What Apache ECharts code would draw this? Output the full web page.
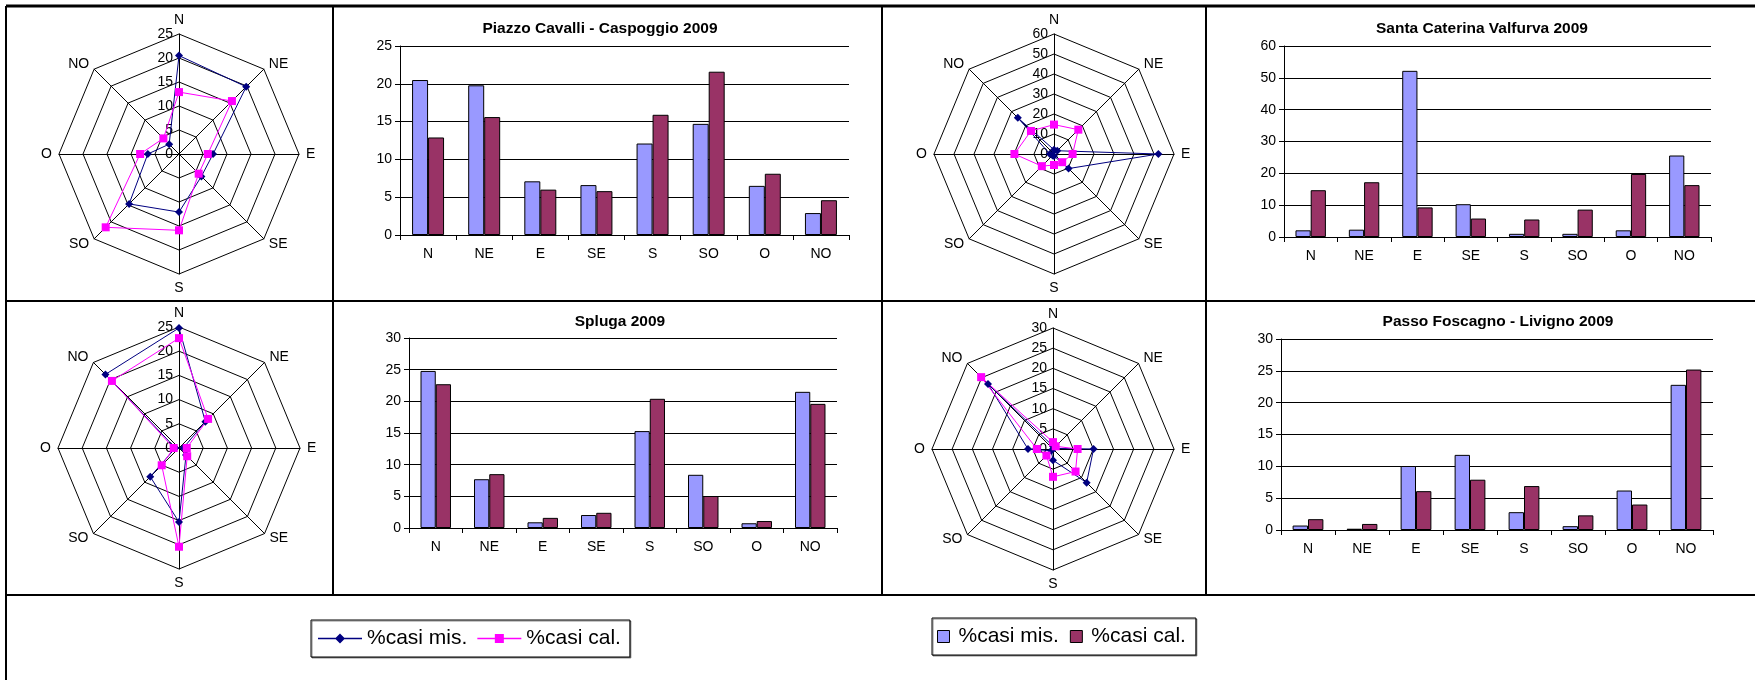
<!DOCTYPE html>
<html><head><meta charset="utf-8">
<script src="https://cdn.jsdelivr.net/npm/echarts@6/dist/echarts.min.js"></script>
<style>html,body{margin:0;padding:0;background:#fff}#c{width:1755px;height:680px}</style>
</head><body><div id="c"></div>
<script>
// ---------- DATA ----------
const categories = ['N', 'NE', 'E', 'SE', 'S', 'SO', 'O', 'NO'];
const titles = ['Piazzo Cavalli - Caspoggio 2009', 'Santa Caterina Valfurva 2009', 'Spluga 2009', 'Passo Foscagno - Livigno 2009'];
const misPiazzo   = [20.5, 19.8, 7.1, 6.6, 12.1, 14.7, 6.5, 2.9];
const calPiazzo   = [12.9, 15.6, 6.0, 5.8, 15.9, 21.6, 8.1, 4.6];
const misSanta    = [2.1, 2.3, 52.2, 10.3, 1.0, 1.0, 2.1, 25.6];
const calSanta    = [14.7, 17.2, 9.3, 5.8, 5.5, 8.6, 19.8, 16.3];
const misSpluga   = [24.8, 7.7, 0.9, 2.05, 15.3, 8.4, 0.75, 21.5];
const calSpluga   = [22.7, 8.5, 1.6, 2.4, 20.4, 5.05, 1.1, 19.6];
const misFoscagno = [0.7, 0.2, 10.05, 11.8, 2.8, 0.6, 6.2, 22.8];
const calFoscagno = [1.7, 0.95, 6.1, 7.9, 6.9, 2.3, 4.0, 25.2];
const radarMax  = [25, 60, 25, 30];
const radarStep = [5, 10, 5, 5];
const barMax  = [25, 60, 30, 30];
const barStep = [5, 10, 5, 5];
const legendLabels = ['%casi mis.', '%casi cal.'];

// ---------- LAYOUT / STYLE ----------
const FONT = 'Liberation Sans, Arial, sans-serif';
const C_MIS_LINE = '#000080', C_CAL_LINE = '#FF00FF';
const C_MIS_BAR = '#9999FF', C_CAL_BAR = '#993366';
const stations = [
  {mis: misPiazzo, cal: calPiazzo},
  {mis: misSanta, cal: calSanta},
  {mis: misSpluga, cal: calSpluga},
  {mis: misFoscagno, cal: calFoscagno}
];
const radarLayout = [
  {c: [179, 154], r: 120}, {c: [1054, 154], r: 120},
  {c: [179, 448], r: 121}, {c: [1053, 449], r: 121}
];
const gridLayout = [
  {left: 400, top: 46, width: 449, height: 189},
  {left: 1284, top: 46, width: 427, height: 191},
  {left: 409, top: 338, width: 428, height: 190},
  {left: 1281, top: 339, width: 432, height: 191}
];
const titlePos = [[600, 21], [1482, 21], [620, 314], [1498, 314]];
// counter-clockwise order of indicators starting from north
const ccw = [0, 7, 6, 5, 4, 3, 2, 1];

const radar = [], series = [], grid = [], xAxis = [], yAxis = [], title = [];
stations.forEach((st, k) => {
  radar.push({
    center: radarLayout[k].c, radius: radarLayout[k].r, startAngle: 90,
    shape: 'polygon', splitNumber: radarMax[k] / radarStep[k],
    indicator: ccw.map((i, j) => {
      const ind = {name: categories[i], min: 0, max: radarMax[k]};
      if (j === 0) ind.axisLabel = {show: true};
      return ind;
    }),
    nameGap: 7,
    axisName: {color: '#000', fontSize: 14, fontFamily: FONT},
    axisLine: {lineStyle: {color: '#000', width: 1}},
    splitLine: {lineStyle: {color: '#000', width: 1}},
    splitArea: {show: false},
    axisTick: {show: false},
    axisLabel: {show: false, color: '#000', fontSize: 14, fontFamily: FONT, margin: 6}
  });
  series.push({
    type: 'radar', radarIndex: k, silent: true,
    data: [
      {name: 'r_mis', value: ccw.map(i => st.mis[i]), symbol: 'diamond', symbolSize: 8,
       itemStyle: {color: C_MIS_LINE}, lineStyle: {color: C_MIS_LINE, width: 1}},
      {name: 'r_cal', value: ccw.map(i => st.cal[i]), symbol: 'rect', symbolSize: 8,
       itemStyle: {color: C_CAL_LINE}, lineStyle: {color: C_CAL_LINE, width: 1}}
    ]
  });
  grid.push(Object.assign({outerBoundsMode: 'none', containLabel: false}, gridLayout[k]));
  xAxis.push({
    type: 'category', gridIndex: k, data: categories,
    axisLine: {lineStyle: {color: '#000', width: 1}},
    axisTick: {show: true, length: 5, lineStyle: {color: '#000'}},
    axisLabel: {color: '#000', fontSize: 14, fontFamily: FONT, margin: 12, interval: 0},
    splitLine: {show: false}
  });
  yAxis.push({
    type: 'value', gridIndex: k, min: 0, max: barMax[k], interval: barStep[k],
    axisLine: {show: true, lineStyle: {color: '#000', width: 1}},
    axisTick: {show: true, length: 5, lineStyle: {color: '#000'}},
    axisLabel: {color: '#000', fontSize: 14, fontFamily: FONT, margin: 8},
    splitLine: {show: true, lineStyle: {color: '#000', width: 1}}
  });
  title.push({
    text: titles[k], left: titlePos[k][0], top: titlePos[k][1], textAlign: 'center', padding: 0,
    textStyle: {fontSize: 15.5, fontWeight: 'bold', color: '#000', fontFamily: FONT}
  });
  series.push({
    type: 'bar', name: 'b_mis', xAxisIndex: k, yAxisIndex: k, data: st.mis,
    barGap: '0%', barCategoryGap: '43%', silent: true,
    itemStyle: {color: C_MIS_BAR, borderColor: '#000', borderWidth: 1}
  });
  series.push({
    type: 'bar', name: 'b_cal', xAxisIndex: k, yAxisIndex: k, data: st.cal,
    barGap: '0%', barCategoryGap: '43%', silent: true,
    itemStyle: {color: C_CAL_BAR, borderColor: '#000', borderWidth: 1}
  });
});

const legendName = n => (n.endsWith('mis') ? legendLabels[0] : legendLabels[1]);
const legend = [
  {
    left: 311, top: 620, orient: 'horizontal', selectedMode: false,
    itemWidth: 44, itemHeight: 10, itemGap: 10,
    padding: [8, 9, 8, 7], borderColor: '#000', borderWidth: 1,
    shadowColor: 'rgba(0,0,0,0.45)', shadowOffsetX: 1, shadowOffsetY: 1, shadowBlur: 0,
    backgroundColor: '#fff',
    formatter: legendName,
    textStyle: {fontSize: 21, color: '#000', fontFamily: FONT},
    data: [
      {name: 'r_mis', icon: 'path://M0,4.25h44v1.5h-44z M22,0L27,5L22,10L17,5z', itemStyle: {color: C_MIS_LINE, borderWidth: 0}},
      {name: 'r_cal', icon: 'path://M0,4.25h44v1.5h-44z M17.5,0.5h9v9h-9z', itemStyle: {color: C_CAL_LINE, borderWidth: 0}}
    ]
  },
  {
    left: 932, top: 618, orient: 'horizontal', selectedMode: false,
    itemWidth: 20, itemHeight: 12, itemGap: 11,
    padding: [8, 10, 8, 5], borderColor: '#000', borderWidth: 1,
    shadowColor: 'rgba(0,0,0,0.45)', shadowOffsetX: 1, shadowOffsetY: 1, shadowBlur: 0,
    backgroundColor: '#fff',
    formatter: legendName,
    textStyle: {fontSize: 21, color: '#000', fontFamily: FONT},
    data: [
      {name: 'b_mis', icon: 'path://M0,0h12v12h-12z', itemStyle: {color: C_MIS_BAR, borderColor: '#000', borderWidth: 1}},
      {name: 'b_cal', icon: 'path://M0,0h12v12h-12z', itemStyle: {color: C_CAL_BAR, borderColor: '#000', borderWidth: 1}}
    ]
  }
];

// table frame
const L = (x1, y1, x2, y2, w) => ({type: 'line', silent: true, z: 100,
  shape: {x1, y1, x2, y2}, style: {stroke: '#000', lineWidth: w}});
const graphic = [
  L(6, 6, 1755, 6, 3),
  L(6, 6, 6, 680, 2),
  L(6, 301, 1755, 301, 2),
  L(6, 595, 1755, 595, 2),
  L(333, 6, 333, 595, 2),
  L(882, 6, 882, 595, 2),
  L(1206, 6, 1206, 595, 2)
];

const chart = echarts.init(document.getElementById('c'), null, {renderer: 'canvas'});
chart.setOption({
  animation: false,
  backgroundColor: '#fff',
  textStyle: {fontFamily: FONT},
  title, legend, radar, grid, xAxis, yAxis, series, graphic
});
</script></body></html>
